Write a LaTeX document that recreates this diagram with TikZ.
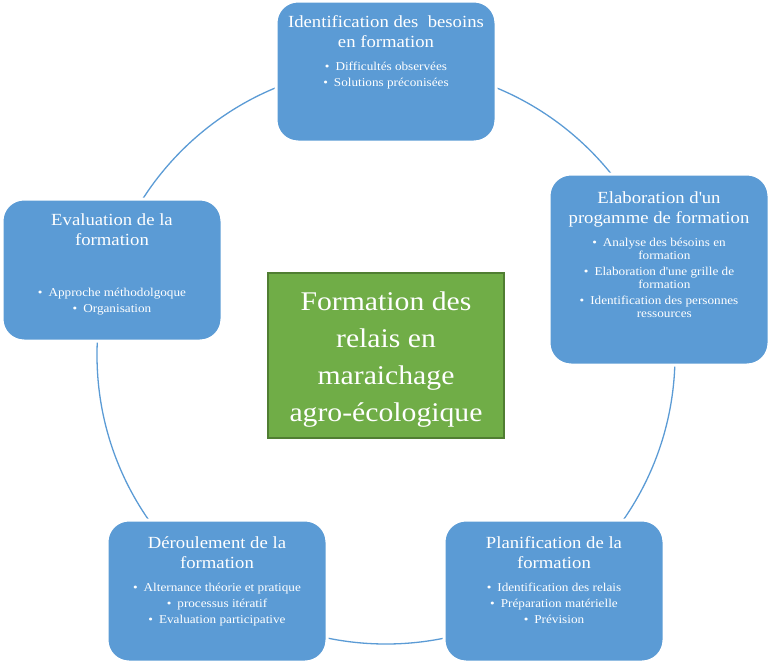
\documentclass[tikz,border=0pt]{standalone}
\usepackage{fontspec}
\setmainfont{Liberation Serif}[FakeStretch=1.1]
\definecolor{bleu}{HTML}{5B9BD5}
\definecolor{vert}{HTML}{70AD47}
\definecolor{vertfonce}{HTML}{507E32}
\newcommand{\contenu}[5]{\parbox[c][#1][t]{214pt}{\centering\vspace*{#2}%
  {\fontsize{17}{20}\selectfont #4\par}\vspace{#3}%
  {\fontsize{12}{13}\selectfont #5\par}}}
\newcommand{\puce}{\textbullet\enspace}

\begin{document}
\begin{tikzpicture}[x=1pt,y=-1pt,
  etape/.style = {draw=white, line width=3pt, fill=bleu, rounded corners=22pt, minimum width=220pt, inner sep=0pt, text=white},
  centre/.style = {draw=vertfonce, line width=2pt, fill=vert, minimum width=236pt, minimum height=165pt, text=white, align=center, font=\fontsize{27}{37}\selectfont}]
  \useasboundingbox (0,0) rectangle (768,664);
  \coordinate (c) at (386,355);
  \draw[bleu, line width=1.3pt] (c) circle[radius=289];
  \node[centre] (formation) at (386,355.5) {\rule{0pt}{26.5pt}Formation des\\relais en\\maraichage\\agro-écologique};
  \node[etape, minimum height=141pt] (besoins) at (386,71.5) {\contenu{139pt}{14pt}{10pt}{Identification des~ besoins\\en formation}{\puce Difficultés observées\\[3pt]\puce Solutions préconisées}};
  \node[etape, minimum height=191pt] (programme) at (659,269.5) {\contenu{189pt}{17pt}{10pt}{Elaboration d\textquotesingle un\\progamme de formation}{\puce Analyse des bésoins en\\\hphantom{\puce}formation\\[3pt]\puce Elaboration d\textquotesingle une grille de\\\hphantom{\puce}formation\\[3pt]\puce Identification des personnes\\\hphantom{\puce}ressources}};
  \node[etape, minimum height=142pt] (evaluation) at (112,270) {\contenu{140pt}{14pt}{38pt}{Evaluation de la\\formation}{\puce Approche méthodolgoque\\[3pt]\puce Organisation}};
  \node[etape, minimum height=142pt] (deroulement) at (217,591) {\contenu{140pt}{15.5pt}{10pt}{Déroulement de la\\formation}{\puce Alternance théorie et pratique\\[3pt]\puce processus itératif\\[3pt]\puce Evaluation participative}};
  \node[etape, minimum height=142pt] (planification) at (554,591) {\contenu{140pt}{15.5pt}{10pt}{Planification de la\\formation}{\puce Identification des relais\\[3pt]\puce Préparation matérielle\\[3pt]\puce Prévision}};
\end{tikzpicture}
\end{document}
